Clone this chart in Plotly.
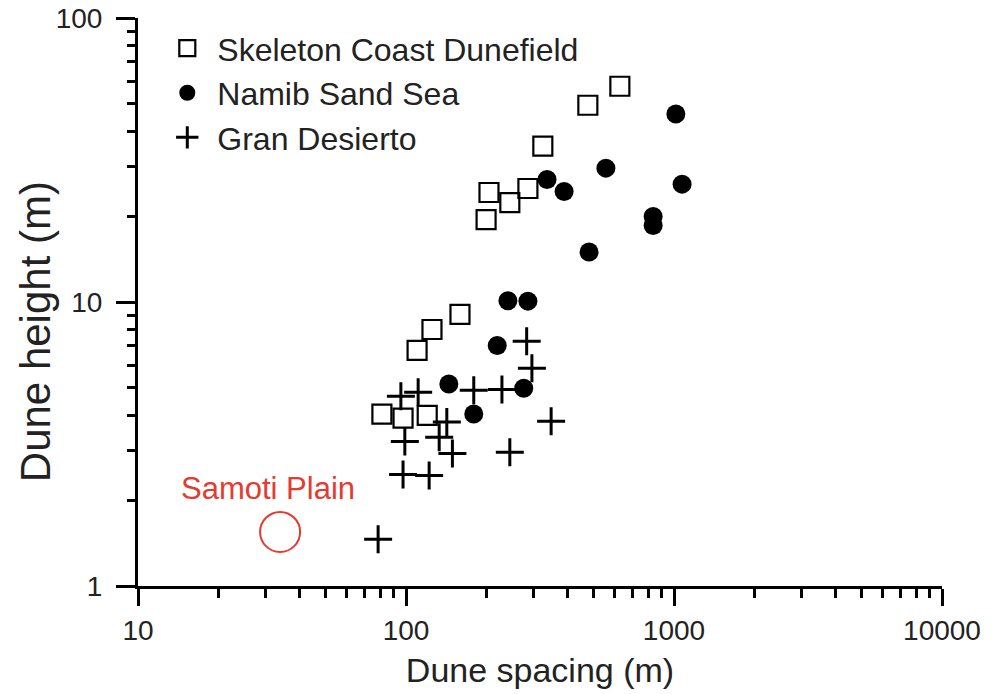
import math
import plotly.graph_objects as go

# ---- data ----
skeleton_spacing = [628, 477, 324, 285, 244, 204, 199, 159, 125, 110, 81.3, 97.5, 120]
skeleton_height = [57.5, 49.3, 35.4, 25.1, 22.4, 24.3, 19.5, 9.04, 8.0, 6.76, 4.03, 3.90, 3.99]

namib_spacing = [1016, 557, 336, 389, 1072, 836, 836, 482, 240, 285, 219, 144.5, 275, 179]
namib_height = [45.9, 29.6, 27.0, 24.5, 26.0, 20.0, 18.6, 15.0, 10.1, 10.07, 7.03, 5.14, 4.97, 4.03]

gran_spacing = [282, 295, 95.7, 111, 179, 228, 142, 348, 99, 133, 149, 244, 97.5, 122, 78.7]
gran_height = [7.28, 5.85, 4.66, 4.81, 4.89, 4.92, 3.78, 3.80, 3.23, 3.34, 2.93, 2.96, 2.47, 2.45, 1.46]

samoti_spacing = [33.9]
samoti_height = [1.55]
samoti_label = "Samoti Plain"
samoti_label_pos = (30.5, 2.21)

x_tickvals = [10, 100, 1000, 10000]
x_ticktext = ["10", "100", "1000", "10000"]
y_tickvals = [1, 10, 100]
y_ticktext = ["1", "10", "100"]

x_title = "Dune spacing (m)"
y_title = "Dune height (m)"

FONT = "Liberation Sans, Arial, Helvetica, sans-serif"
RED = "#e53a2f"

fig = go.Figure()

fig.add_trace(go.Scatter(
    x=skeleton_spacing, y=skeleton_height, mode="markers",
    name="Skeleton Coast Dunefield", legendgroup="a",
    marker=dict(symbol="square-open", size=19, color="black",
                line=dict(width=2.2, color="black")),
))
fig.add_trace(go.Scatter(
    x=namib_spacing, y=namib_height, mode="markers",
    name="Namib Sand Sea", legendgroup="b",
    marker=dict(symbol="circle", size=19, color="black",
                line=dict(width=0, color="black")),
))
fig.add_trace(go.Scatter(
    x=gran_spacing, y=gran_height, mode="markers",
    name="Gran Desierto", legendgroup="c",
    marker=dict(symbol="cross-thin", size=20, color="black",
                line=dict(width=3, color="black")),
))
fig.add_trace(go.Scatter(
    x=samoti_spacing, y=samoti_height, mode="markers",
    showlegend=False,
    marker=dict(symbol="circle-open", size=40, color=RED,
                line=dict(width=2, color=RED)),
))

fig.add_annotation(
    x=math.log10(samoti_label_pos[0]), y=math.log10(samoti_label_pos[1]),
    xref="x", yref="y", text=samoti_label, showarrow=False,
    font=dict(family=FONT, size=31, color=RED),
)

# y-axis title (placed as rotated text, slightly below the axis centre as in the original)
fig.add_annotation(
    x=-0.128, y=0.447, xref="paper", yref="paper", text=y_title,
    textangle=-90, showarrow=False, xanchor="center", yanchor="middle",
    font=dict(family=FONT, size=42, color="#222"),
)

minor_x = [m * 10 ** d for d in range(1, 4) for m in range(2, 10)]
minor_y = [m * 10 ** d for d in range(0, 2) for m in range(2, 10)]

fig.update_xaxes(
    type="log", range=[1, 4], automargin=False, ticklabeloverflow="allow",
    tickmode="array", tickvals=x_tickvals, ticktext=x_ticktext,
    ticks="outside", ticklen=17, tickwidth=3, tickcolor="black",
    showline=True, linewidth=3, linecolor="black",
    showgrid=False, zeroline=False,
    tickfont=dict(family=FONT, size=28, color="#222"),
    title=dict(text=x_title, font=dict(family=FONT, size=34, color="#222"),
               standoff=14),
    minor=dict(tickmode="array", tickvals=minor_x, ticks="outside",
               ticklen=9, tickwidth=2.5, tickcolor="black", showgrid=False),
)
fig.update_yaxes(
    type="log", range=[0, 2], automargin=False, ticklabeloverflow="allow",
    tickmode="array", tickvals=y_tickvals, ticktext=y_ticktext,
    ticks="outside", ticklen=19, tickwidth=3, tickcolor="black",
    showline=True, linewidth=3, linecolor="black",
    showgrid=False, zeroline=False, ticklabelstandoff=8,
    tickfont=dict(family=FONT, size=28, color="#222"),
    minor=dict(tickmode="array", tickvals=minor_y, ticks="outside",
               ticklen=8, tickwidth=2.5, tickcolor="black", showgrid=False),
)

fig.update_layout(
    width=995, height=694,
    margin=dict(l=138, r=53, t=18, b=108),
    plot_bgcolor="white", paper_bgcolor="white",
    font=dict(family=FONT, color="#222"),
    legend=dict(
        x=0.024, y=0.995, xanchor="left", yanchor="top",
        bgcolor="rgba(0,0,0,0)", font=dict(family=FONT, size=32, color="#222"),
        tracegroupgap=0, itemwidth=50,
    ),
)

fig.write_html("out.html", config={"displayModeBar": False},
               post_script="document.body.style.margin='0px';")
